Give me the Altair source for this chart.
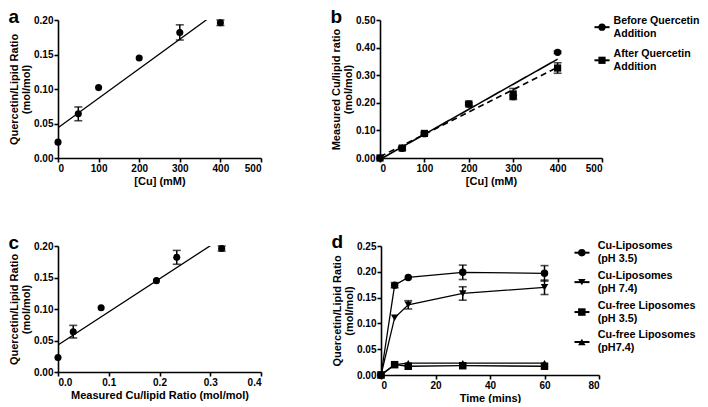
import altair as alt
import pandas as pd

# ---------------- data ----------------
# panels a / c
cu_mM = [0, 50, 100, 200, 300, 400]
q_lipid = [0.023, 0.064, 0.102, 0.145, 0.182, 0.196]
q_lipid_err = [0.0, 0.010, 0.0, 0.0, 0.011, 0.004]
cu_lipid_measured = [0.0, 0.030, 0.085, 0.194, 0.234, 0.3225]

# panel b
series_b = ["Before Quercetin|Addition", "After Quercetin|Addition"]
cu_before = [0.0, 0.035, 0.088, 0.195, 0.222, 0.383]
cu_before_err = [0.0, 0.0, 0.0, 0.0, 0.006, 0.004]
cu_after = [0.0, 0.036, 0.089, 0.196, 0.232, 0.326]
cu_after_err = [0.0, 0.006, 0.004, 0.005, 0.020, 0.019]

# panel d
series_d = ["Cu-Liposomes|(pH 3.5)", "Cu-Liposomes|(pH 7.4)",
            "Cu-free Liposomes|(pH 3.5)", "Cu-free Liposomes|(pH7.4)"]
time_min = [0, 5, 10, 30, 60]
cu_lip_35 = [0.0, 0.174, 0.189, 0.199, 0.197]
cu_lip_35_err = [0.0, 0.005, 0.0, 0.014, 0.015]
cu_lip_74 = [0.0, 0.111, 0.136, 0.158, 0.170]
cu_lip_74_err = [0.0, 0.0, 0.008, 0.013, 0.014]
free_35 = [0.0, 0.020, 0.017, 0.018, 0.017]
free_35_err = [0.0, 0.0, 0.0, 0.0, 0.0]
free_74 = [0.0, 0.020, 0.023, 0.023, 0.023]
free_74_err = [0.0, 0.0, 0.0, 0.0, 0.0]

# legend placement (in each panel's data units)
legend_b_place = {"sym": 500, "line": (483, 517), "text": 526, "rows": [0.474, 0.354]}
legend_d_place = {"sym": 73.7, "line": (71.0, 76.5), "text": 79.5,
                  "rows": [0.237, 0.180, 0.122, 0.064]}

# ---------------- styling ----------------
FONT = "Liberation Sans"
Q_TITLE = ["Quercetin/Lipid Ratio", "(mol/mol)"]


def enc_x(field, spec):
    dom, vals, fmt, title = spec
    return alt.X(field, type="quantitative",
                 scale=alt.Scale(domain=dom, nice=False, zero=False),
                 axis=alt.Axis(values=vals, format=fmt, title=title))


def enc_y(field, spec):
    dom, vals, title = spec
    return alt.Y(field, type="quantitative",
                 scale=alt.Scale(domain=dom, nice=False, zero=False),
                 axis=alt.Axis(values=vals, format=".2f", title=title))


def letter(t):
    return alt.TitleParams(t, anchor="start", frame="bounds", fontSize=19,
                           fontWeight="bold", font=FONT, offset=-12, color="black")


def errbars(data, xs, ys):
    base = alt.Chart(data).transform_filter("datum.err > 0").transform_calculate(
        lo="datum.y - datum.err", hi="datum.y + datum.err")
    X = enc_x("x", xs)
    rule = base.mark_rule(color="black", strokeWidth=1.5).encode(x=X, y=enc_y("lo", ys), y2="hi:Q")
    cap1 = base.mark_tick(orient="horizontal", size=8, thickness=1.6, color="black").encode(
        x=X, y=enc_y("lo", ys))
    cap2 = base.mark_tick(orient="horizontal", size=8, thickness=1.6, color="black").encode(
        x=X, y=enc_y("hi", ys))
    return rule + cap1 + cap2


def manual_legend(series, shapes, place, xs, ys, size, font_size):
    n = len(series)
    ldf = pd.DataFrame({
        "series": series,
        "x": [place["sym"]] * n, "x0": [place["line"][0]] * n, "x1": [place["line"][1]] * n,
        "xt": [place["text"]] * n, "y": place["rows"],
    })
    Y = enc_y("y", ys)
    shape_enc = alt.Shape("series:N", scale=alt.Scale(domain=series, range=shapes), legend=None)
    line = alt.Chart(ldf).mark_rule(color="black", strokeWidth=2).encode(
        x=enc_x("x0", xs), x2="x1:Q", y=Y)
    sym = alt.Chart(ldf).mark_point(filled=True, color="black", size=size, opacity=1).encode(
        x=enc_x("x", xs), y=Y, shape=shape_enc)
    txt = alt.Chart(ldf).mark_text(align="left", baseline="middle", lineBreak="|",
                                   fontSize=font_size, fontWeight="bold", font=FONT,
                                   lineHeight=13, dy=-6.5, color="black").encode(
        x=enc_x("xt", xs), y=Y, text="series:N")
    return alt.layer(line, sym, txt)


# ---------------- panels a / c ----------------
QY = ([0, 0.2], [0, 0.05, 0.1, 0.15, 0.2], Q_TITLE)


def fit_panel(xvals_data, xs, title, w, h):
    df = pd.DataFrame({"x": xvals_data, "y": q_lipid, "err": q_lipid_err})
    X = enc_x("x", xs)
    Y = enc_y("y", QY)
    fit = alt.Chart(df).transform_regression("x", "y").mark_line(
        color="black", strokeWidth=1.3, clip=True).encode(x=X, y=Y)
    pts = alt.Chart(df).mark_point(filled=True, color="black", size=50, opacity=1,
                                   shape="circle").encode(x=X, y=Y)
    return alt.layer(fit, errbars(df, xs, QY), pts).properties(
        width=w, height=h, title=letter(title))


panel_a = fit_panel(cu_mM, ([0, 500], [0, 100, 200, 300, 400, 500], "d", "[Cu] (mM)"),
                    "a", 203, 138)
panel_c = fit_panel(cu_lipid_measured,
                    ([0, 0.4], [0, 0.1, 0.2, 0.3, 0.4], ".1f", "Measured Cu/lipid Ratio (mol/mol)"),
                    "c", 203, 126)

# ---------------- panel b ----------------
df_b = pd.concat([
    pd.DataFrame({"x": cu_mM, "y": cu_before, "err": cu_before_err, "series": series_b[0]}),
    pd.DataFrame({"x": cu_mM, "y": cu_after, "err": cu_after_err, "series": series_b[1]}),
], ignore_index=True)
XS_B = ([0, 500], [0, 100, 200, 300, 400, 500], "d", "[Cu] (mM)")
YS_B = ([0, 0.5], [0, 0.1, 0.2, 0.3, 0.4, 0.5], ["Measured Cu/lipid ratio", "(mol/mol)"])
shapes_b = ["circle", "square"]
fit_b = alt.Chart(df_b).transform_regression("x", "y", groupby=["series"]).mark_line(
    color="black", strokeWidth=1.6, clip=True).encode(
    x=enc_x("x", XS_B), y=enc_y("y", YS_B),
    strokeDash=alt.StrokeDash("series:N", scale=alt.Scale(domain=series_b, range=[[1, 0], [6, 4]]),
                              legend=None))
pts_b = alt.Chart(df_b).mark_point(filled=True, color="black", size=52, opacity=1).encode(
    x=enc_x("x", XS_B), y=enc_y("y", YS_B),
    shape=alt.Shape("series:N", scale=alt.Scale(domain=series_b, range=shapes_b), legend=None))
panel_b = alt.layer(
    fit_b, errbars(df_b, XS_B, YS_B), pts_b,
    manual_legend(series_b, shapes_b, legend_b_place, XS_B, YS_B, 52, 10.6),
).properties(width=222, height=138, title=letter("b"))

# ---------------- panel d ----------------
df_d = pd.concat([
    pd.DataFrame({"x": time_min, "y": cu_lip_35, "err": cu_lip_35_err, "series": series_d[0]}),
    pd.DataFrame({"x": time_min, "y": cu_lip_74, "err": cu_lip_74_err, "series": series_d[1]}),
    pd.DataFrame({"x": time_min, "y": free_35, "err": free_35_err, "series": series_d[2]}),
    pd.DataFrame({"x": time_min, "y": free_74, "err": free_74_err, "series": series_d[3]}),
], ignore_index=True)
XS_D = ([0, 80], [0, 20, 40, 60, 80], "d", "Time (mins)")
YS_D = ([0, 0.25], [0, 0.05, 0.1, 0.15, 0.2, 0.25], Q_TITLE)
shapes_d = ["circle", "triangle-down", "square", "triangle-up"]
lines_d = alt.Chart(df_d).mark_line(color="black", strokeWidth=1.3).encode(
    x=enc_x("x", XS_D), y=enc_y("y", YS_D), detail="series:N", order="x:Q")
pts_d = alt.Chart(df_d).mark_point(filled=True, color="black", size=56, opacity=1).encode(
    x=enc_x("x", XS_D), y=enc_y("y", YS_D),
    shape=alt.Shape("series:N", scale=alt.Scale(domain=series_d, range=shapes_d), legend=None))
panel_d = alt.layer(
    lines_d, errbars(df_d, XS_D, YS_D), pts_d,
    manual_legend(series_d, shapes_d, legend_d_place, XS_D, YS_D, 56, 10.8),
).properties(width=218, height=129, title=letter("d"))

# ---------------- layout ----------------
row1 = alt.hconcat(panel_a, panel_b, spacing=68).resolve_scale(
    shape="independent", strokeDash="independent")
row2 = alt.hconcat(panel_c, panel_d, spacing=69).resolve_scale(shape="independent")

chart = alt.vconcat(row1, row2, spacing=47).resolve_scale(
    shape="independent", strokeDash="independent").properties(
    padding=0
).configure_view(stroke=None).configure_axis(
    grid=False, domainColor="black", domainWidth=1.6, tickColor="black", tickWidth=1.6,
    tickSize=4, labelFont=FONT, labelFontSize=10, labelFontWeight="bold", labelColor="black",
    labelPadding=1, titleFont=FONT, titleFontSize=11, titleFontWeight="bold", titleColor="black",
    titlePadding=2, titleLineHeight=12
)

chart.save("out.html", embed_options={"renderer": "svg", "actions": False})
